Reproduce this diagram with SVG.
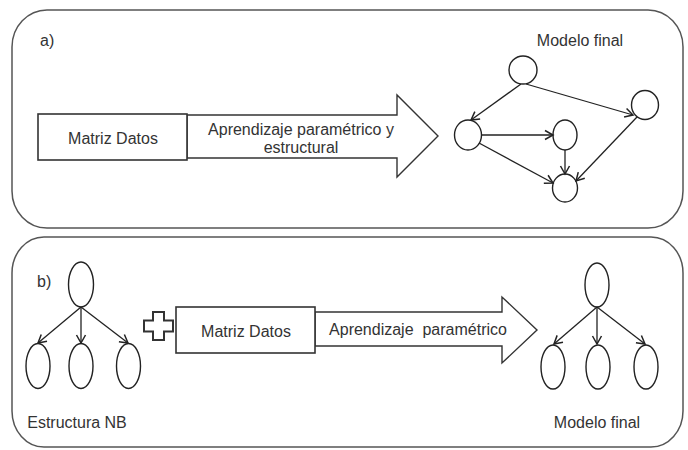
<svg xmlns="http://www.w3.org/2000/svg" width="688" height="450" viewBox="0 0 688 450">
<defs>
<style>
.panel{fill:#fff;stroke:#555;stroke-width:1.5}
.box{fill:#fff;stroke:#333;stroke-width:1.6}
.node{fill:#fff;stroke:#222;stroke-width:1.4}
.edge{fill:none;stroke:#222;stroke-width:1.3}
.big{fill:#fff;stroke:#333;stroke-width:1.4}
text{font-family:"Liberation Sans",Arial,sans-serif;font-size:16px;fill:#333}
.c{text-anchor:middle}
</style>
<marker id="ah" markerUnits="userSpaceOnUse" markerWidth="14" markerHeight="14" viewBox="-10 -7 14 14" refX="0" refY="0" orient="auto">
<path d="M-8,-4.5 L0,0 L-8,4.5" fill="none" stroke="#222" stroke-width="1.5"/>
</marker>
</defs>
<rect fill="#fff" width="688" height="450"/>

<g id="panel-a">
<rect class="panel" x="12" y="10" width="671" height="218" rx="35" ry="37"/>
<text x="40" y="46">a)</text>
</g>
<g id="panel-b">
<rect class="panel" x="12" y="237" width="671" height="210" rx="32" ry="36"/>
<text x="37" y="287">b)</text>
</g>

<g id="arrow-a">
<polygon class="big" points="187,115 397,115 397,95 438,136 397,177 397,158 187,158"/>
<text class="c" x="301" y="135">Aprendizaje paramétrico y</text>
<text class="c" x="301" y="153">estructural</text>
</g>
<g id="matriz-a">
<rect class="box" x="38" y="114" width="149" height="46"/>
<text class="c" x="113" y="144">Matriz Datos</text>
</g>

<g id="modelo-a-label"><text class="c" x="580" y="46">Modelo final</text></g>
<g id="a-T"><ellipse class="node" cx="523" cy="70" rx="14" ry="14"/></g>
<g id="a-L"><ellipse class="node" cx="468" cy="135" rx="13.5" ry="15"/></g>
<g id="a-M"><ellipse class="node" cx="565" cy="135" rx="12" ry="15"/></g>
<g id="a-R"><ellipse class="node" cx="645" cy="105" rx="13.5" ry="14.5"/></g>
<g id="a-B"><ellipse class="node" cx="565" cy="188" rx="12.5" ry="14"/></g>

<g id="plus"><path d="M153,312 H164 V320.5 H173 V331.5 H164 V340 H153 V331.5 H144 V320.5 H153 Z" fill="#fff" stroke="#333" stroke-width="2"/></g>

<g id="arrow-b">
<polygon class="big" points="315,312 502,312 502,297 537,330 502,363 502,346 315,346"/>
<text class="c" x="418" y="335" xml:space="preserve" style="white-space:pre">Aprendizaje  paramétrico</text>
</g>
<g id="matriz-b">
<rect class="box" x="176" y="307" width="139" height="46"/>
<text class="c" x="246" y="337">Matriz Datos</text>
</g>

<g id="nb-top"><ellipse class="node" cx="81" cy="284.5" rx="12.5" ry="22.5"/></g>
<g id="nb-c1"><ellipse class="node" cx="38" cy="366" rx="12" ry="22.5"/></g>
<g id="nb-c2"><ellipse class="node" cx="81" cy="366" rx="12" ry="22.5"/></g>
<g id="nb-c3"><ellipse class="node" cx="128.5" cy="366" rx="12" ry="22.5"/></g>
<g id="nb-label"><text class="c" x="77" y="428">Estructura NB</text></g>

<g id="fm-top"><ellipse class="node" cx="597" cy="285" rx="12" ry="22"/></g>
<g id="fm-c1"><ellipse class="node" cx="553" cy="367" rx="12" ry="22"/></g>
<g id="fm-c2"><ellipse class="node" cx="598" cy="367" rx="12" ry="22"/></g>
<g id="fm-c3"><ellipse class="node" cx="646" cy="367" rx="12" ry="22"/></g>
<g id="fm-label"><text class="c" x="597" y="428">Modelo final</text></g>

<g id="connectors">
<line class="edge" x1="521" y1="84" x2="471" y2="120" marker-end="url(#ah)"/>
<line class="edge" x1="526" y1="84" x2="633" y2="115" marker-end="url(#ah)"/>
<line class="edge" x1="482" y1="135" x2="553" y2="135" marker-end="url(#ah)"/>
<line class="edge" x1="479" y1="143" x2="553" y2="183" marker-end="url(#ah)"/>
<line class="edge" x1="565" y1="150" x2="565" y2="174" marker-end="url(#ah)"/>
<line class="edge" x1="637" y1="117" x2="576" y2="181" marker-end="url(#ah)"/>
<line class="edge" x1="81" y1="307" x2="38" y2="343" marker-end="url(#ah)"/>
<line class="edge" x1="81" y1="307" x2="81" y2="343" marker-end="url(#ah)"/>
<line class="edge" x1="81" y1="307" x2="128" y2="343" marker-end="url(#ah)"/>
<line class="edge" x1="597" y1="307" x2="554" y2="344" marker-end="url(#ah)"/>
<line class="edge" x1="597" y1="307" x2="597" y2="344" marker-end="url(#ah)"/>
<line class="edge" x1="597" y1="307" x2="645" y2="344" marker-end="url(#ah)"/>
</g>
</svg>
